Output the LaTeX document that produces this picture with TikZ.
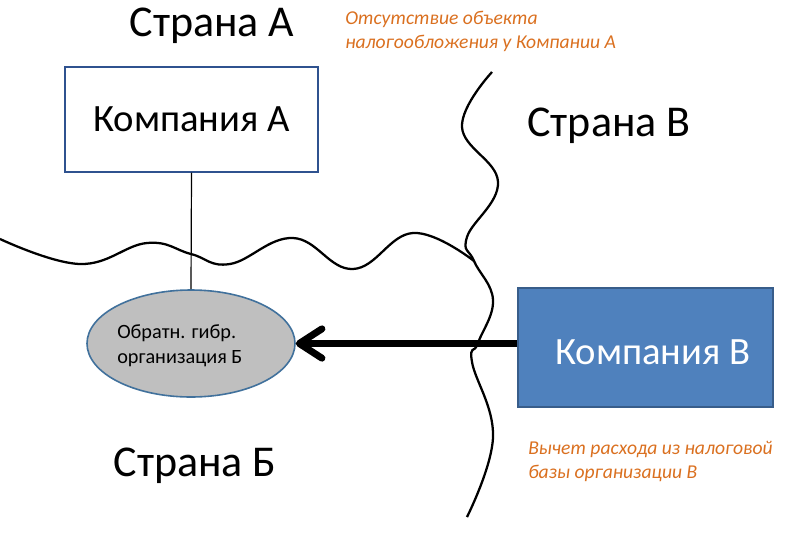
\documentclass[tikz,border=0pt]{standalone}
\usepackage{fontspec}
\setmainfont{Carlito}
\usetikzlibrary{arrows.meta,shapes.geometric}
\definecolor{boxline}{RGB}{47,82,143}
\definecolor{bluefill}{RGB}{79,129,189}
\definecolor{blueline}{RGB}{56,93,138}
\definecolor{ellline}{RGB}{65,113,156}
\definecolor{grayfill}{RGB}{191,191,191}
\definecolor{orangetxt}{RGB}{218,112,32}
\tikzset{
  bigtext/.style={font=\fontsize{33}{40}\selectfont, inner sep=0pt},
  boxtext/.style={font=\fontsize{29}{35}\selectfont},
  note/.style={font=\fontsize{14.7}{18}\selectfont\itshape, text=orangetxt, align=left, inner sep=0pt, anchor=north west},
  wave/.style={line width=1.7pt, black},
}
\begin{document}
\begin{tikzpicture}[x=0.75pt,y=-0.75pt]
\useasboundingbox (0,0) rectangle (812,535);
% titles
\node[bigtext] (sa) at (212,26) {Страна А};
\node[bigtext] (sv) at (609,126) {Страна В};
\node[bigtext] (sb) at (195,466) {Страна Б};
% notes
\node[note] (n1) at (345,11) {Отсутствие объекта\\налогообложения у Компании А};
\node[note] (n2) at (528,441) {Вычет расхода из налоговой\\базы организации В};
% wavy lines
\coordinate (j) at (474,261);
\draw[wave] plot[smooth, tension=0.7] coordinates {(0,239) (80,264) (147,243) (191,254) (230,264) (293,238) (353,269) (413,233) (j)};
\draw[wave] plot[smooth, tension=0.7] coordinates {(492,72) (462,127) (498,182) (467,237) (j) (493,300) (478,343) (472,362) (493,437) (467,517)};
% company A
\node[draw=boxline, line width=1pt, fill=white, minimum width=253*0.75pt, minimum height=105*0.75pt, boxtext] (ka) at (191.5,119.5) {Компания А};
% ellipse
\node[ellipse, draw=ellline, line width=1.2pt, fill=grayfill, minimum width=208*0.75pt, minimum height=107*0.75pt, inner sep=0pt] (ob) at (191,343.5) {};
\node[font=\fontsize{15.2}{19}\selectfont, align=left, anchor=west, inner sep=0pt] (obt) at (117,346) {Обратн. гибр.\\организация Б};
\draw[line width=0.9pt] (ka.south) -- (ob.north);
% company V
\node[draw=blueline, line width=1pt, fill=bluefill, minimum width=255*0.75pt, minimum height=119*0.75pt] (kv) at (645.5,347.5) {};
\node[boxtext, text=white] (kvt) at (653,352) {Компания В};
% arrow
\draw[line width=5.2pt, -{Straight Barb[length=17pt,width=22pt,round]}] (kv.west |- ob.east) -- (ob.east);
\end{tikzpicture}
\end{document}
